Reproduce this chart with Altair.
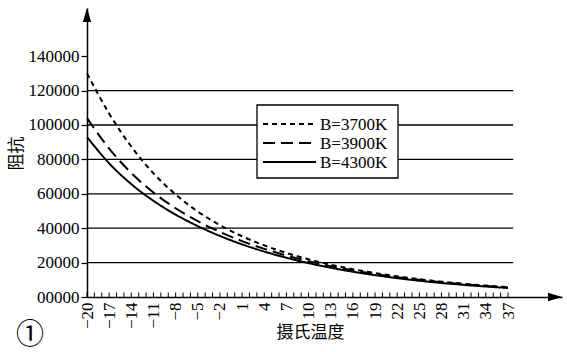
import altair as alt
import pandas as pd

# ---- data ----
temps = [-20, -17, -14, -11, -8, -5, -2, 1, 4, 7, 10, 13, 16, 19, 22, 25, 28, 31, 34, 37]
r3700 = [130000, 106600, 87400, 71900, 59600, 49700, 41800, 35300, 30000, 25600, 21900,
         18800, 16200, 13900, 12000, 10350, 8920, 7690, 6630, 5720]
r3900 = [104000, 86300, 72100, 60700, 51600, 44100, 37800, 32500, 28000, 24100, 20800,
         17950, 15500, 13400, 11550, 9970, 8600, 7430, 6410, 5530]
r4300 = [93000, 77700, 65600, 55900, 47900, 41200, 35500, 30600, 26400, 22800, 19700,
         17000, 14700, 12700, 10950, 9450, 8150, 7050, 6100, 5250]
series_names = ["B=3700K", "B=3900K", "B=4300K"]

y_ticks = [0, 20000, 40000, 60000, 80000, 100000, 120000, 140000]
grid_y = [20000, 40000, 60000, 80000, 100000, 120000]
x_labels = list(range(-20, 38, 3))
x_minor = list(range(-20, 38))

X_MIN, X_MAX = -20, 44.31
Y_MAX = 168000
GRID_END = 37.7
TICK_LEN = 2600

FONT = "Liberation Serif"
CJK = "Noto Sans CJK SC"

rows = []
for name, vals in zip(series_names, [r3700, r3900, r4300]):
    for t, v in zip(temps, vals):
        rows.append({"t": t, "r": v, "series": name})
df = pd.DataFrame(rows)

xs = alt.Scale(domain=[X_MIN, X_MAX], nice=False, zero=False)
ys = alt.Scale(domain=[0, Y_MAX], nice=False, zero=False)

x_axis = alt.Axis(
    values=x_labels, ticks=False, grid=False, domainColor="black", domainWidth=1.5,
    labelAngle=270, labelAlign="right", labelBaseline="middle", labelPadding=5,
    labelFont=FONT, labelFontSize=17, labelColor="black",
    labelExpr="replace(format(datum.value, 'd'), '-', '\u2212')",
    title="摄氏温度", titleFont=CJK, titleFontSize=17, titleFontWeight="normal",
    titleColor="black", titleX=223, titleY=35, titleBaseline="middle", titleAnchor="middle",
    labelOverlap=False, labelFlush=False)
y_axis = alt.Axis(
    values=y_ticks, grid=False, domainColor="black", domainWidth=1.5,
    tickColor="black", tickSize=6, tickWidth=1.2, labelPadding=2,
    labelFont=FONT, labelFontSize=17, labelColor="black",
    labelExpr="datum.value == 0 ? '00000' : format(datum.value, 'd')",
    title="阻抗", titleFont=CJK, titleFontSize=17, titleFontWeight="normal",
    titleColor="black", titleX=-71, titleY=145, titleAngle=270,
    titleBaseline="middle", titleAlign="center",
    labelOverlap=False, labelFlush=False)

curves = alt.Chart(df).mark_line(interpolate="monotone", strokeWidth=2, color="black").encode(
    x=alt.X("t:Q", scale=xs, axis=x_axis),
    y=alt.Y("r:Q", scale=ys, axis=y_axis),
    strokeDash=alt.StrokeDash("series:N", scale=alt.Scale(
        domain=series_names, range=[[5, 4], [12, 6], [1, 0]]), legend=None),
    detail="series:N",
)

grid = alt.Chart(pd.DataFrame({"y": grid_y, "x": [X_MIN] * len(grid_y), "x2": [GRID_END] * len(grid_y)})).mark_rule(
    color="black", strokeWidth=1.3).encode(
    x=alt.X("x:Q", scale=xs, axis=x_axis), x2="x2:Q", y=alt.Y("y:Q", scale=ys, axis=y_axis))

xticks = alt.Chart(pd.DataFrame({"x": x_minor, "y": [0] * len(x_minor), "y2": [TICK_LEN] * len(x_minor)})).mark_rule(
    color="black", strokeWidth=1).encode(
    x=alt.X("x:Q", scale=xs, axis=x_axis), y=alt.Y("y:Q", scale=ys, axis=y_axis), y2="y2:Q")

arrows = alt.Chart(pd.DataFrame({"x": [X_MAX, X_MIN], "y": [0, Y_MAX],
                                 "shape": ["M0,0L-1,-0.3L-1,0.3Z", "M0,0L-0.3,1L0.3,1Z"]})).mark_point(
    filled=True, color="black", opacity=1, size=784).encode(
    x=alt.X("x:Q", scale=xs, axis=x_axis), y=alt.Y("y:Q", scale=ys, axis=y_axis),
    shape=alt.Shape("shape:N", scale=None))

# legend box (drawn manually)
legend_box = alt.Chart(pd.DataFrame({"a": [0]})).mark_rect(
    fill="white", stroke="black", strokeWidth=1.3).encode(
    x=alt.value(170), x2=alt.value(311), y=alt.value(97), y2=alt.value(170))

legend_layers = []
row_y = [116, 135, 154]
dashes = [[5, 4], [12, 6], [1, 0]]
for name, yy, dash in zip(series_names, row_y, dashes):
    legend_layers.append(
        alt.Chart(pd.DataFrame({"a": [0]})).mark_rule(color="black", strokeWidth=2, strokeDash=dash).encode(
            x=alt.value(176), x2=alt.value(229), y=alt.value(yy)))
    legend_layers.append(
        alt.Chart(pd.DataFrame({"label": [name]})).mark_text(
            font=FONT, fontSize=17, align="left", baseline="middle", color="black").encode(
            x=alt.value(233), y=alt.value(yy + 1), text="label:N"))

circled = alt.Chart(pd.DataFrame({"label": ["①"]})).mark_text(
    font=CJK, fontSize=28, align="center", baseline="middle", color="black").encode(
    x=alt.value(-57), y=alt.value(328), text="label:N")

chart = alt.layer(grid, xticks, curves, legend_box, *legend_layers, arrows, circled).properties(
    width=475, height=289,
    autosize=alt.AutoSizeParams(type="none"),
    padding={"left": 87, "top": 8, "right": 5, "bottom": 55},
    background="white",
).configure_view(stroke=None)

chart.save("out.html", embed_options={"renderer": "svg", "actions": False})
